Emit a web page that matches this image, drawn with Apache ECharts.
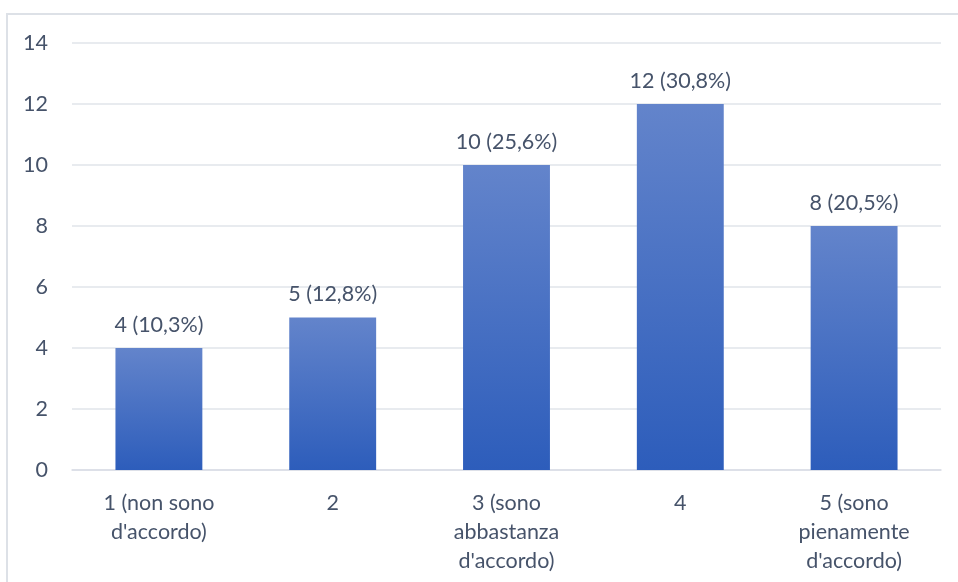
<!DOCTYPE html>
<html>
<head>
<meta charset="utf-8">
<script src="https://cdn.jsdelivr.net/npm/echarts@6/dist/echarts.min.js"></script>
<style>
  html, body { margin: 0; padding: 0; background: #ffffff; }
  #chart { width: 958px; height: 582px; }
</style>
</head>
<body>
<div id="chart"></div>
<script>
// Risposte per livello di accordo
const categories = [
  '1 (non sono\nd\'accordo)',
  '2',
  '3 (sono\nabbastanza\nd\'accordo)',
  '4',
  '5 (sono\npienamente\nd\'accordo)'
];
const counts = [4, 5, 10, 12, 8];
const percents = ['10,3%', '12,8%', '25,6%', '30,8%', '20,5%'];
const yTicks = [0, 2, 4, 6, 8, 10, 12, 14];

const textColor = '#46536a';
const fontFamily = 'Lato, "Open Sans", sans-serif';
const fontSize = 21.5;

const chart = echarts.init(document.getElementById('chart'));
chart.setOption({
  backgroundColor: '#ffffff',
  animation: false,
  graphic: [{
    type: 'rect',
    shape: { x: 7, y: 14, width: 1000, height: 700 },
    style: { fill: 'none', stroke: '#dde1e7', lineWidth: 2 },
    silent: true,
    z: -1
  }],
  grid: { left: 72, right: 17, top: 43, bottom: 112 },
  xAxis: {
    type: 'category',
    data: categories,
    axisTick: { show: false },
    axisLine: { lineStyle: { color: '#d9dde6', width: 1.5 } },
    axisLabel: {
      color: textColor,
      fontFamily: fontFamily,
      fontSize: fontSize,
      lineHeight: 29,
      margin: 19,
      interval: 0
    }
  },
  yAxis: {
    type: 'value',
    min: yTicks[0],
    max: yTicks[yTicks.length - 1],
    interval: 2,
    axisLine: { show: false },
    axisTick: { show: false },
    splitLine: { lineStyle: { color: '#e1e4ea', width: 1.5 } },
    axisLabel: {
      color: textColor,
      fontFamily: fontFamily,
      fontSize: fontSize,
      margin: 24
    }
  },
  series: [{
    type: 'bar',
    data: counts,
    barWidth: '50%',
    itemStyle: {
      color: new echarts.graphic.LinearGradient(0, 0, 0, 1, [
        { offset: 0, color: '#6384cb' },
        { offset: 1, color: '#2d5dbb' }
      ])
    },
    label: {
      show: true,
      position: 'top',
      distance: 12,
      color: textColor,
      fontFamily: fontFamily,
      fontSize: fontSize,
      formatter: p => p.value + ' (' + percents[p.dataIndex] + ')'
    }
  }]
});
</script>
</body>
</html>
